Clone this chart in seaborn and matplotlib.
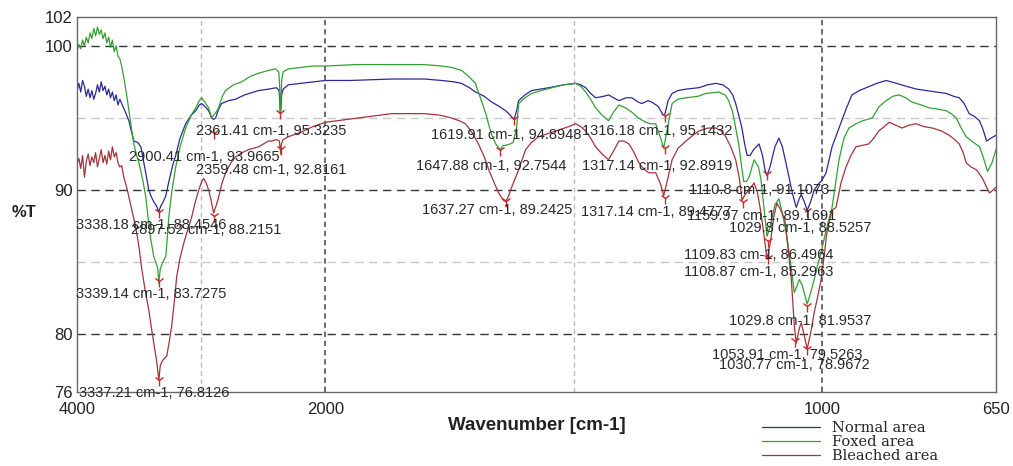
import numpy as np
import pandas as pd
import matplotlib
matplotlib.use("Agg")
import matplotlib.pyplot as plt
import seaborn as sns

# FTIR spectra, %T against wavenumber
noise_wn = [4000, 3985, 3970, 3955, 3940, 3925, 3910, 3895, 3880, 3865, 3850, 3835,
            3820, 3805, 3790, 3775, 3760, 3745, 3730, 3715, 3700, 3685, 3670, 3655]

normal_wn = noise_wn + [
    3640, 3620, 3600, 3582, 3560, 3542, 3510, 3486, 3460, 3440, 3422, 3400, 3382, 3360,
    3341, 3325, 3305, 3285, 3260, 3230, 3205, 3170, 3125, 3080, 3044, 3015, 2996, 2970,
    2940, 2916, 2900, 2884, 2860, 2836, 2780, 2723, 2650, 2538, 2458, 2394, 2372, 2366,
    2362, 2358, 2352, 2340, 2298, 2200, 2100, 2000, 1950, 1867, 1800, 1766, 1740, 1726,
    1710, 1698, 1680, 1665, 1650, 1637, 1628, 1620, 1615, 1611, 1598, 1585, 1550, 1520,
    1496, 1486, 1476, 1466, 1456, 1440, 1430, 1420, 1409, 1395, 1383, 1370, 1363, 1350,
    1343, 1330, 1320, 1317, 1310, 1302, 1290, 1274, 1248, 1230, 1214, 1200, 1188, 1180,
    1174, 1168, 1162, 1156, 1151, 1145, 1138, 1127, 1120, 1115, 1111, 1105, 1095, 1087,
    1080, 1071, 1060, 1052, 1046, 1042, 1036, 1030, 1023, 1016, 1008, 1000, 992, 980,
    966, 952, 940, 925, 911, 890, 871, 850, 831, 810, 790, 770, 750, 735, 724, 714, 704,
    693, 683, 676, 669, 660, 650]
normal_t = [
    96.9, 97.4, 96.8, 97.6, 97.2, 96.5, 97.0, 96.4, 96.9, 96.3, 96.7, 97.3,
    96.8, 97.5, 96.9, 97.2, 96.6, 97.0, 96.4, 96.8, 96.2, 96.6, 95.9, 96.3,
    96.0, 95.6, 95.2, 94.8, 94.0, 93.4, 93.3, 93.0, 91.8, 90.9, 90.0, 89.5, 89.2, 88.9,
    88.5, 88.9, 89.2, 89.6, 90.6, 91.7, 92.4, 93.6, 94.6, 95.2, 95.5, 95.9, 96.0, 95.8,
    95.5, 95.0, 94.9, 95.0, 95.6, 96.0, 96.2, 96.3, 96.6, 96.9, 97.0, 97.1, 96.9, 96.0,
    95.3, 95.6, 96.6, 97.0, 97.3, 97.4, 97.5, 97.6, 97.6, 97.7, 97.7, 97.6, 97.5, 97.4,
    97.1, 96.8, 96.5, 96.1, 95.8, 95.5, 95.2, 94.9, 95.5, 96.2, 96.6, 96.9, 97.1, 97.3,
    97.4, 97.3, 97.1, 96.7, 96.4, 96.5, 96.6, 96.4, 96.2, 96.4, 96.4, 96.1, 96.0, 96.2,
    96.1, 95.8, 95.2, 95.2, 96.2, 96.7, 96.9, 97.0, 97.1, 97.3, 97.4, 97.3, 97.0, 96.6,
    96.0, 95.2, 94.4, 93.2, 92.4, 92.4, 92.8, 93.2, 92.4, 91.4, 91.0, 91.6, 93.0, 93.6,
    93.0, 91.6, 89.8, 88.8, 89.4, 89.7, 89.2, 88.6, 89.2, 90.0, 90.4, 90.7, 91.2, 93.0,
    94.3, 95.6, 96.6, 96.9, 97.1, 97.4, 97.6, 97.4, 97.2, 97.0, 96.9, 96.8, 96.7, 96.5,
    96.4, 96.0, 95.3, 95.1, 94.8, 94.2, 93.4, 93.6, 93.8]

foxed_wn = noise_wn + [
    3640, 3623, 3600, 3582, 3560, 3542, 3520, 3502, 3470, 3446, 3425, 3406, 3382, 3365,
    3350, 3341, 3330, 3310, 3285, 3270, 3261, 3235, 3205, 3170, 3125, 3080, 3044, 3015,
    2996, 2970, 2940, 2916, 2900, 2880, 2860, 2830, 2804, 2740, 2675, 2600, 2538, 2458,
    2402, 2375, 2368, 2363, 2358, 2352, 2340, 2298, 2200, 2100, 2000, 1940, 1867, 1800,
    1766, 1745, 1726, 1712, 1698, 1688, 1677, 1670, 1665, 1657, 1648, 1642, 1637, 1628,
    1622, 1615, 1611, 1598, 1585, 1565, 1544, 1520, 1496, 1486, 1476, 1466, 1456, 1443,
    1430, 1420, 1409, 1396, 1383, 1370, 1355, 1345, 1335, 1325, 1319, 1312, 1302, 1290,
    1274, 1250, 1234, 1208, 1195, 1188, 1180, 1174, 1168, 1162, 1158, 1152, 1147, 1137,
    1128, 1123, 1116, 1111, 1105, 1095, 1087, 1080, 1071, 1063, 1056, 1050, 1046, 1040,
    1034, 1030, 1023, 1016, 1009, 1002, 992, 980, 966, 956, 946, 932, 919, 899, 885, 871,
    858, 845, 832, 819, 800, 784, 765, 750, 740, 730, 720, 710, 695, 683, 675, 667, 658,
    650]
foxed_t = [
    99.6, 100.1, 99.8, 100.4, 100.0, 100.6, 100.2, 100.9, 100.5, 101.2, 100.7, 101.3,
    100.8, 101.1, 100.5, 100.9, 100.2, 100.6, 99.9, 100.4, 99.6, 100.0, 99.3, 99.1,
    98.6, 97.8, 96.6, 95.5, 94.2, 93.2, 92.4, 91.9, 90.7, 89.5, 87.9, 86.6, 85.4, 85.0,
    84.6, 83.5, 84.5, 85.0, 85.4, 87.0, 88.1, 90.0, 91.6, 93.0, 94.3, 95.2, 95.7, 96.2,
    96.4, 96.1, 95.7, 95.0, 95.2, 95.4, 95.7, 96.5, 96.9, 97.3, 97.5, 97.9, 98.1, 98.3,
    98.4, 98.2, 97.2, 95.4, 96.0, 97.6, 98.2, 98.4, 98.5, 98.6, 98.6, 98.7, 98.7, 98.7,
    98.6, 98.5, 98.3, 97.9, 97.4, 96.4, 95.3, 94.4, 93.8, 93.2, 92.8, 93.1, 93.1, 93.2,
    93.3, 94.3, 96.0, 96.4, 96.7, 96.9, 97.1, 97.3, 97.4, 97.2, 96.8, 96.3, 95.7, 95.2,
    94.8, 95.4, 95.9, 95.7, 95.4, 95.0, 94.7, 94.6, 94.6, 93.6, 92.9, 94.2, 96.0, 96.3,
    96.4, 96.5, 96.7, 96.8, 96.6, 96.2, 95.4, 94.3, 93.2, 91.6, 90.6, 90.6, 90.9, 92.1,
    91.6, 90.7, 88.4, 86.8, 87.4, 89.0, 89.4, 88.4, 86.8, 84.8, 82.9, 83.4, 83.8, 83.4,
    82.6, 82.1, 82.9, 83.8, 84.8, 85.7, 87.2, 88.8, 92.1, 93.6, 94.3, 94.6, 94.8, 95.0,
    95.8, 96.2, 96.5, 96.6, 96.4, 96.1, 95.9, 95.7, 95.6, 95.5, 95.3, 95.0, 94.3, 93.7,
    93.3, 93.0, 92.2, 91.3, 91.9, 92.8]

bleached_wn = noise_wn + [
    3640, 3623, 3600, 3582, 3555, 3526, 3500, 3478, 3450, 3422, 3400, 3382, 3358, 3341,
    3330, 3317, 3300, 3277, 3255, 3237, 3215, 3197, 3170, 3141, 3110, 3077, 3050, 3020,
    2995, 2980, 2960, 2940, 2920, 2900, 2880, 2860, 2835, 2804, 2760, 2723, 2670, 2619,
    2538, 2458, 2434, 2395, 2370, 2363, 2359, 2354, 2340, 2298, 2200, 2100, 2000, 1933,
    1867, 1800, 1770, 1746, 1730, 1718, 1705, 1692, 1680, 1671, 1660, 1651, 1642, 1637,
    1631, 1625, 1611, 1597, 1585, 1571, 1536, 1510, 1496, 1486, 1476, 1466, 1456, 1443,
    1430, 1420, 1409, 1399, 1389, 1380, 1369, 1360, 1349, 1335, 1325, 1319, 1312, 1302,
    1290, 1274, 1260, 1248, 1230, 1214, 1203, 1194, 1184, 1174, 1167, 1161, 1155, 1147,
    1137, 1130, 1123, 1116, 1111, 1104, 1097, 1091, 1083, 1075, 1068, 1062, 1056, 1052,
    1046, 1042, 1036, 1030, 1023, 1016, 1009, 1002, 996, 990, 980, 972, 962, 952, 942,
    932, 919, 906, 896, 886, 875, 865, 852, 839, 825, 811, 795, 778, 760, 744, 733, 724,
    716, 710, 700, 689, 677, 669, 663, 656, 650]
bleached_t = [
    91.8, 92.2, 91.5, 92.4, 90.9, 92.0, 92.5, 91.7, 92.3, 91.9, 92.6, 91.6,
    92.2, 92.8, 91.9, 92.4, 91.8, 92.7, 92.1, 93.0, 92.3, 92.6, 91.9, 91.6,
    91.7, 90.9, 90.2, 89.5, 88.5, 87.4, 86.0, 84.5, 83.0, 81.7, 80.4, 79.4, 78.1, 76.8,
    77.8, 78.1, 78.3, 78.5, 79.6, 80.6, 82.4, 84.0, 85.3, 86.3, 87.2, 88.1, 89.1, 90.0,
    90.6, 90.8, 90.5, 90.0, 89.3, 88.4, 88.9, 89.5, 90.4, 91.2, 91.9, 92.3, 92.6, 92.8,
    93.0, 93.4, 93.4, 93.5, 93.4, 92.8, 92.5, 93.2, 93.5, 93.7, 94.0, 94.4, 94.7, 95.0,
    95.3, 95.3, 95.2, 95.0, 94.8, 94.6, 94.0, 93.2, 92.3, 91.4, 90.5, 89.8, 89.3, 89.2,
    89.6, 90.2, 91.4, 92.8, 93.3, 93.7, 94.1, 94.4, 94.6, 94.4, 94.1, 93.6, 93.0, 92.5,
    92.1, 92.7, 93.4, 93.4, 93.2, 92.7, 91.9, 91.5, 91.2, 91.2, 90.4, 89.6, 90.6, 92.1,
    92.9, 93.4, 93.8, 94.1, 94.3, 94.3, 94.1, 93.7, 93.0, 92.1, 90.9, 89.3, 89.7, 90.0,
    90.5, 89.8, 88.4, 86.6, 85.2, 86.4, 88.2, 89.1, 88.6, 87.9, 85.8, 83.8, 80.6, 79.4,
    80.4, 80.8, 79.9, 79.0, 80.1, 81.5, 82.6, 83.8, 85.4, 87.2, 88.6, 88.8, 90.5, 91.6, 92.4,
    93.0, 93.1, 93.2, 93.6, 94.1, 94.4, 94.7, 94.5, 94.3, 94.5, 94.6, 94.4, 94.3, 94.1, 93.8, 93.5, 93.2,
    92.6, 91.9, 91.6, 91.4, 90.8, 90.2, 89.8, 90.0, 90.2]

samples = ["Normal area", "Foxed area", "Bleached area"]
colors = {"Normal area": "#2a2a96", "Foxed area": "#33a033", "Bleached area": "#a3343a"}

# peak picks and their labels
peak_wn = [3338.18, 3339.14, 3337.21, 2900.41, 2897.52, 2361.41, 2359.48,
           1619.91, 1647.88, 1637.27, 1316.18, 1317.14, 1317.14,
           1110.8, 1159.97, 1029.8, 1109.83, 1108.87, 1029.8, 1053.91, 1030.77]
peak_t = [88.4546, 83.7275, 76.8126, 93.9665, 88.2151, 95.3235, 92.8161,
          94.8948, 92.7544, 89.2425, 95.1432, 92.8919, 89.4777,
          91.1073, 89.1691, 88.5257, 86.4964, 85.2963, 81.9537, 79.5263, 78.9672]
label_wn = [4008, 4008, 3984, 3582, 3566, 3044, 3044,
            1788, 1817, 1806, 1484, 1484, 1486,
            1268, 1272, 1188, 1278, 1278, 1188, 1222, 1208]
label_t = [87.6, 82.8, 75.9, 92.3, 87.2, 94.1, 91.4,
           93.8, 91.7, 88.6, 94.1, 91.7, 88.5,
           90.0, 88.2, 87.4, 85.5, 84.3, 80.9, 78.6, 77.9]

frames = [
    pd.DataFrame({"wavenumber": normal_wn, "T": normal_t, "sample": "Normal area"}),
    pd.DataFrame({"wavenumber": foxed_wn, "T": foxed_t, "sample": "Foxed area"}),
    pd.DataFrame({"wavenumber": bleached_wn, "T": bleached_t, "sample": "Bleached area"}),
]
df = pd.concat(frames, ignore_index=True)

sns.set_style("white")
plt.rcParams["font.family"] = ["Liberation Sans", "DejaVu Sans"]

fig = plt.figure(figsize=(10.13, 4.66), dpi=100)
ax = fig.add_axes([0.076, 0.1588, 0.9072, 0.8047])


# spectrometer style axis: region below 2000 cm-1 expanded 4x
def fwd(x):
    x = np.asarray(x, dtype=float)
    return np.where(x >= 2000, x, 4 * x - 6000)


def inv(u):
    u = np.asarray(u, dtype=float)
    return np.where(u >= 2000, u, (u + 6000) / 4)


ax.set_xscale("function", functions=(fwd, inv))

# reference grid
for yv in [100, 90, 80]:
    ax.axhline(yv, color="#333333", lw=1.0, dashes=(6, 4), zorder=0)
for yv in [95, 85]:
    ax.axhline(yv, color="#c8c8c8", lw=1.0, dashes=(6, 4), zorder=0)
for xv in [2000, 1000]:
    ax.axvline(xv, color="#444444", lw=1.1, dashes=(3.5, 2.5), zorder=0)
for xv in [3000, 1500]:
    ax.axvline(xv, color="#bbbbbb", lw=1.0, dashes=(3.5, 2.5), zorder=0)

sns.lineplot(data=df, x="wavenumber", y="T", hue="sample", hue_order=samples,
             palette=colors, estimator=None, linewidth=0.9, ax=ax)

ax.plot(peak_wn, peak_t, linestyle="none", marker="1", markersize=8,
        markeredgewidth=1.0, color="#d02828", zorder=5)

for wn, t, lx, ly in zip(peak_wn, peak_t, label_wn, label_t):
    ax.text(lx, ly, f"{wn:g} cm-1, {t:.4f}", fontsize=10.5, color="#2a2a2a",
            ha="left", va="center", zorder=6)

ax.set_xlim(4000, 650)
ax.set_ylim(76, 102)
ax.set_xticks([4000, 3000, 2000, 1500, 1000, 650])
ax.set_xticklabels(["4000", "", "2000", "", "1000", "650"])
ax.set_yticks([76, 80, 90, 100, 102])
ax.set_yticklabels(["76", "80", "90", "100", "102"])
ax.tick_params(axis="x", direction="in", length=5, width=1, color="#444444",
               labelsize=12, pad=7, labelcolor="#222222")
ax.tick_params(axis="y", length=0, labelsize=12, pad=3, labelcolor="#222222")

for sp in ax.spines.values():
    sp.set_visible(True)
    sp.set_color("#666666")
    sp.set_linewidth(1.0)

ax.set_xlabel("Wavenumber [cm-1]", fontsize=13.5, fontweight="bold", color="#222222")
ax.xaxis.set_label_coords(0.5, -0.09)
ax.xaxis.label.set_verticalalignment("center")
ax.set_ylabel("%T", fontsize=12, fontweight="bold", rotation=0, color="#222222")
ax.yaxis.set_label_coords(-0.058, 0.48)
ax.yaxis.label.set_verticalalignment("center")

sns.move_legend(ax, "upper left", bbox_to_anchor=(0.752, 0.097),
                bbox_transform=fig.transFigure, frameon=False, title=None,
                handlelength=4.0, handletextpad=0.8, labelspacing=0.0,
                borderpad=0, borderaxespad=0,
                prop={"family": "DejaVu Serif", "size": 10.5})

fig.savefig("out.png", dpi=100)
